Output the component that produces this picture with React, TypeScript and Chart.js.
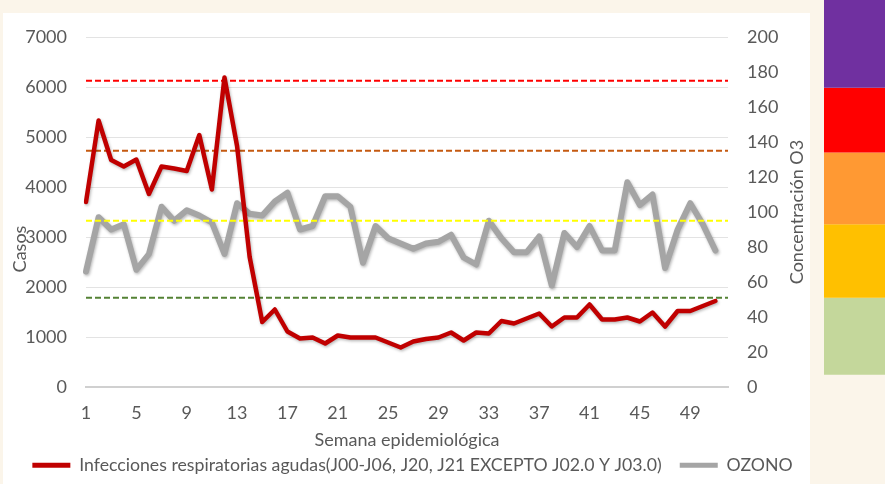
import React, { useEffect, useRef } from "react";
import { Chart, registerables } from "chart.js";

Chart.register(...registerables);

// ---- Data ----
const weeks: string[] = [
  "1","2","3","4","5","6","7","8","9","10","11","12","13","14","15","16","17","18","19","20",
  "21","22","23","24","25","26","27","28","29","30","31","32","33","34","35","36","37","38","39","40",
  "41","42","43","44","45","46","47","48","49","50","51","52",
];

const irasCasos: number[] = [
  3700, 5330, 4540, 4410, 4550, 3860, 4410, 4370, 4320, 5040,
  3950, 6190, 4820, 2600, 1300, 1550, 1110, 970, 990, 870,
  1030, 990, 990, 990, 890, 790, 910, 960, 990, 1090,
  930, 1090, 1070, 1320, 1270, 1370, 1470, 1210, 1390, 1390,
  1650, 1350, 1350, 1390, 1310, 1490, 1210, 1520, 1520, 1620,
  1720,
];

const ozono: number[] = [
  66, 97, 90, 93, 67, 76, 103, 95, 101, 98,
  94, 76, 105, 99, 98, 106, 111, 90, 92, 109,
  109, 103, 71, 92, 85, 82, 79, 82, 83, 87,
  74, 70, 95, 85, 77, 77, 86, 58, 88, 80,
  92, 78, 78, 117, 104, 110, 68, 90, 105, 93,
  78,
];

// Ozone index thresholds (ppb) drawn as dashed reference lines
const umbrales: number[] = [51, 95, 135, 175];
const umbralColores: string[] = ["#548235", "#ffff00", "#c55a11", "#ff0000"];

// Colour scale at the right side (bottom -> top), edges in ppb
const bandaBordes: number[] = [7, 51, 93, 134, 171];
const bandaColores: string[] = ["#c4d79b", "#ffc000", "#ff9933", "#ff0000", "#7030a0"];

const leftTicks = { min: 0, max: 7000, step: 1000 };
const rightTicks = { min: 0, max: 200, step: 20 };

const serieIras = "Infecciones respiratorias agudas(J00-J06, J20, J21 EXCEPTO J02.0 Y J03.0)";
const serieOzono = "OZONO";
const tituloX = "Semana epidemiológica";
const tituloY = "Casos";
const tituloY1 = "Concentración O3";

const FONT = "Lato";
const TEXT = "#595959";
const FS = 18;

export default function App() {
  const ref = useRef<HTMLCanvasElement | null>(null);

  useEffect(() => {
    if (!ref.current) return;

    const backgroundPlugin = {
      id: "bg",
      beforeDraw(chart: any) {
        const { ctx, width, height } = chart;
        ctx.save();
        ctx.fillStyle = "#fbf5ea";
        ctx.fillRect(0, 0, width, height);
        ctx.fillStyle = "#ffffff";
        ctx.fillRect(3, 13, 807, height - 13);
        ctx.restore();
      },
    };

    const decorPlugin = {
      id: "decor",
      afterDraw(chart: any) {
        const { ctx, chartArea, width } = chart;
        const y1 = chart.scales.y1;
        ctx.save();
        const x0 = 824;
        for (let i = 0; i < bandaColores.length; i++) {
          const bottom = y1.getPixelForValue(bandaBordes[i]);
          const top = i + 1 < bandaBordes.length ? y1.getPixelForValue(bandaBordes[i + 1]) : 0;
          ctx.fillStyle = bandaColores[i];
          ctx.fillRect(x0, top, width - x0, bottom - top);
        }
        ctx.fillStyle = TEXT;
        ctx.font = `${FS}px ${FONT}`;
        ctx.textAlign = "center";
        ctx.textBaseline = "middle";
        ctx.save();
        ctx.translate(20, 249);
        ctx.rotate(-Math.PI / 2);
        ctx.fillText(tituloY, 0, 0);
        ctx.restore();
        ctx.save();
        ctx.translate(797, (chartArea.top + chartArea.bottom) / 2);
        ctx.rotate(-Math.PI / 2);
        ctx.fillText(tituloY1, 0, 0);
        ctx.restore();
        ctx.restore();
      },
    };

    const shadowPlugin = {
      id: "shadow",
      beforeDatasetDraw(chart: any, args: any) {
        const ctx = chart.ctx;
        ctx.save();
        if (args.index <= 1) {
          ctx.shadowColor = "rgba(0,0,0,0.28)";
          ctx.shadowBlur = 3;
          ctx.shadowOffsetX = 1;
          ctx.shadowOffsetY = 1.5;
        }
      },
      afterDatasetDraw(chart: any) {
        chart.ctx.restore();
      },
    };

    const dashed = umbrales.map((v, i) => ({
      label: "umbral" + v,
      data: weeks.map(() => v),
      yAxisID: "y1",
      borderColor: umbralColores[i],
      backgroundColor: umbralColores[i],
      borderWidth: 2,
      borderDash: [6, 3],
      pointRadius: 0,
      fill: false,
      order: 1,
    }));

    const chart = new Chart(ref.current, {
      type: "line",
      data: {
        labels: weeks,
        datasets: [
          {
            label: serieIras,
            data: irasCasos,
            yAxisID: "y",
            borderColor: "#c00000",
            backgroundColor: "#c00000",
            borderWidth: 4.5,
            pointRadius: 0,
            tension: 0,
            borderJoinStyle: "round",
            borderCapStyle: "round",
            order: 0,
          },
          {
            label: serieOzono,
            data: ozono,
            yAxisID: "y1",
            borderColor: "#a5a5a5",
            backgroundColor: "#a5a5a5",
            borderWidth: 6,
            pointRadius: 0,
            tension: 0,
            borderJoinStyle: "round",
            borderCapStyle: "round",
            order: 2,
          },
          ...dashed,
        ] as any,
      },
      options: {
        responsive: false,
        animation: false,
        layout: { padding: { top: 37, right: 60, bottom: 0, left: 0 } },
        plugins: {
          tooltip: { enabled: false },
          legend: {
            position: "bottom",
            labels: {
              color: TEXT,
              font: { family: FONT, size: 17.7 },
              boxWidth: 38,
              boxHeight: 5,
              padding: 18,
              filter: (item: any) => item.datasetIndex < 2,
              generateLabels: (c: any) => {
                const items = Chart.defaults.plugins.legend.labels.generateLabels(c);
                return items.map((it: any) => ({ ...it, lineWidth: 0 }));
              },
            },
          },
        },
        scales: {
          x: {
            grid: { display: false, drawTicks: false },
            border: { display: true, color: "#d0d0d0", width: 2 },
            ticks: {
              color: TEXT,
              font: { family: FONT, size: FS },
              autoSkip: false,
              maxRotation: 0,
              padding: 15,
              callback: (_v: any, i: number) => (i % 4 === 0 ? weeks[i] : ""),
            },
            title: {
              display: true,
              text: tituloX,
              color: TEXT,
              font: { family: FONT, size: FS, lineHeight: 1 },
              padding: { top: 0, bottom: -10.7 },
            },
            afterFit: (s: any) => {
              s.height = 51.3;
            },
          },
          y: {
            position: "left",
            min: leftTicks.min,
            max: leftTicks.max,
            grid: { color: "#e3e3e3", lineWidth: 1, drawTicks: false },
            border: { display: false },
            ticks: {
              stepSize: leftTicks.step,
              color: TEXT,
              font: { family: FONT, size: FS },
              padding: 19,
              callback: (v: any) => String(v),
            },
            afterFit: (s: any) => {
              s.width = 86;
            },
          },
          y1: {
            position: "right",
            min: rightTicks.min,
            max: rightTicks.max,
            grid: { display: false, drawTicks: false },
            border: { display: false },
            ticks: {
              stepSize: rightTicks.step,
              color: TEXT,
              font: { family: FONT, size: FS },
              padding: 19,
              callback: (v: any) => String(v),
            },
            afterFit: (s: any) => {
              s.width = 97;
            },
          },
        },
      } as any,
      plugins: [backgroundPlugin, shadowPlugin, decorPlugin],
    });

    return () => chart.destroy();
  }, []);

  return (
    <div style={{ position: "absolute", left: 0, top: 0, width: 885, height: 484 }}>
      <canvas ref={ref} width={885} height={484} style={{ width: 885, height: 484, display: "block" }} />
    </div>
  );
}
